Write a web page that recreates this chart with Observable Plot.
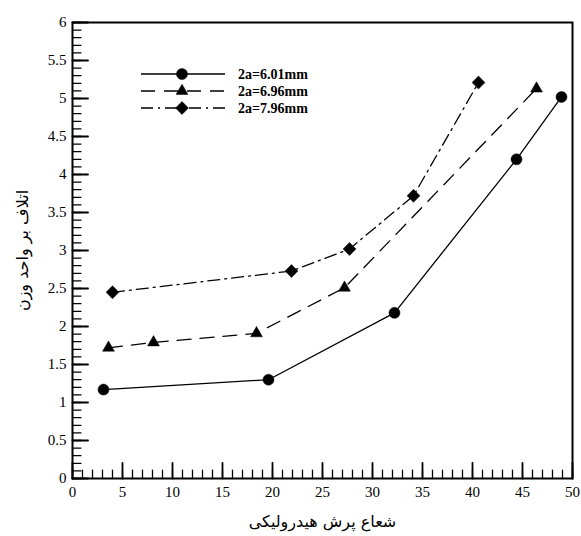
<!DOCTYPE html>
<html>
<head>
<meta charset="utf-8">
<script src="https://cdn.jsdelivr.net/npm/d3@7"></script>
<script src="https://cdn.jsdelivr.net/npm/@observablehq/plot@0.6"></script>
<style>
  html, body { margin: 0; padding: 0; background: #fff; }
  #chart svg { display: block; }
</style>
</head>
<body>
<div id="chart"></div>
<script>
// ---- data ----
const seriesNames = ["2a=6.01mm", "2a=6.96mm", "2a=7.96mm"];
const xA = [3.1, 19.6, 32.2, 44.4, 48.9];
const yA = [1.17, 1.30, 2.18, 4.20, 5.02];
const xB = [3.6, 8.1, 18.4, 27.2, 46.4];
const yB = [1.72, 1.79, 1.91, 2.51, 5.13];
const xC = [4.0, 21.9, 27.7, 34.1, 40.6];
const yC = [2.45, 2.73, 3.02, 3.72, 5.21];
const xTicks = [0, 5, 10, 15, 20, 25, 30, 35, 40, 45, 50];
const yTicks = [0, 0.5, 1, 1.5, 2, 2.5, 3, 3.5, 4, 4.5, 5, 5.5, 6];
const xTitle = "شعاع پرش هیدرولیکی";
const yTitle = "اتلاف بر واحد وزن";

// ---- styles ----
const symbols = ["circle", "triangle", "diamond2"];
const dashes = [null, "14,9", "12,5,2,5"];
const radii = [5.5, 4.4, 5.8];

const series = [[xA, yA], [xB, yB], [xC, yC]].map(([xs, ys], i) =>
  xs.map((x, j) => ({x, y: ys[j], s: seriesNames[i]})));

const minorX = d3.range(0, 50.001, 1);
const minorY = d3.range(0, 6.001, 0.1).map(v => +v.toFixed(1));

const W = 581, H = 536;
const serif = "Liberation Serif";
const arab = "DejaVu Sans";

const tickShape = {draw(context, l) { context.moveTo(0, 0); context.lineTo(0, -l); }};

const marks = [];
series.forEach((data, i) => {
  marks.push(Plot.line(data, {x: "x", y: "y", stroke: "black", strokeWidth: 1.3,
    strokeDasharray: dashes[i] || undefined}));
});
series.forEach((data, i) => {
  marks.push(Plot.dot(data, {x: "x", y: "y", symbol: () => symbols[i], r: radii[i],
    fill: "black", stroke: "black", strokeWidth: 0.5}));
});

const plot = Plot.plot({
  width: W, height: H,
  marginLeft: 72, marginRight: 9, marginTop: 22, marginBottom: 58,
  style: {fontFamily: serif, fontSize: "15px", color: "black", background: "white"},
  x: {domain: [0, 50], axis: null},
  y: {domain: [0, 6], axis: null},
  symbol: {type: "identity"},
  marks: [
    // inward ticks (minor and major)
    Plot.vector(minorX, {x: d => d, y: () => 0, length: () => 6, rotate: 0, anchor: "start", shape: tickShape, stroke: "black", strokeWidth: 1.3}),
    Plot.vector(xTicks, {x: d => d, y: () => 0, length: () => 11, rotate: 0, anchor: "start", shape: tickShape, stroke: "black", strokeWidth: 1.8}),
    Plot.vector(minorY, {y: d => d, x: () => 0, length: () => 6, rotate: 90, anchor: "start", shape: tickShape, stroke: "black", strokeWidth: 1.3}),
    Plot.vector(yTicks, {y: d => d, x: () => 0, length: () => 11, rotate: 90, anchor: "start", shape: tickShape, stroke: "black", strokeWidth: 1.8}),
    // tick labels
    Plot.axisX(xTicks, {tickSize: 0, tickPadding: 8, tickFormat: d => String(d), label: null, fontSize: 15, fontFamily: serif}),
    Plot.axisY(yTicks, {tickSize: 0, tickPadding: 6, tickFormat: d => String(d), label: null, fontSize: 15, fontFamily: serif}),
    Plot.frame({stroke: "black", strokeWidth: 2}),
    ...marks,
    Plot.text([xTitle], {frameAnchor: "bottom", textAnchor: "middle", dy: 48, fontSize: 16, fontFamily: arab, text: d => d}),
    Plot.text([yTitle], {frameAnchor: "left", textAnchor: "middle", dx: -50, rotate: -90, fontSize: 16, fontFamily: arab, text: d => d})
  ]
});

document.getElementById("chart").appendChild(plot);

// ---- legend overlay ----
const svg = d3.select(plot);
const lg = svg.append("g").attr("class", "legend").attr("text-anchor", "start");
const rowY = [74, 91, 108];
const symMap = {circle: d3.symbolCircle, triangle: d3.symbolTriangle, diamond2: d3.symbolDiamond2};
seriesNames.forEach((name, i) => {
  const y = rowY[i];
  lg.append("line").attr("x1", 141).attr("x2", 225).attr("y1", y).attr("y2", y)
    .attr("stroke", "black").attr("stroke-width", 1.3)
    .attr("stroke-dasharray", dashes[i] || null);
  lg.append("path").attr("transform", `translate(182,${y})`)
    .attr("d", d3.symbol(symMap[symbols[i]], Math.PI * radii[i] * radii[i])())
    .attr("fill", "black").attr("stroke", "black").attr("stroke-width", 0.5);
  lg.append("text").attr("x", 238).attr("y", y).attr("dy", "0.35em")
    .attr("text-anchor", "start")
    .attr("font-family", serif).attr("font-weight", "bold").attr("font-size", 14)
    .attr("fill", "black").text(name);
});
</script>
</body>
</html>
